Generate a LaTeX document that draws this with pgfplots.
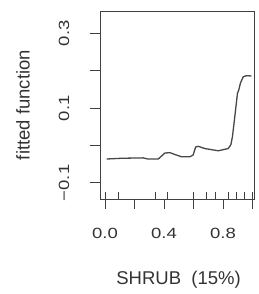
\documentclass[border=0pt]{standalone}
\usepackage{fontspec}
\setmainfont{Liberation Sans}
\usepackage{pgfplots}
\pgfplotsset{compat=1.18}
\definecolor{ln}{gray}{0.25}
\definecolor{cv}{gray}{0.28}
\definecolor{tx}{gray}{0.2}
\begin{document}
\begin{tikzpicture}
\begin{axis}[
  scale only axis,
  width=154pt, height=188pt,
  xmin=-0.034, xmax=1.01,
  ymin=-0.143, ymax=0.36,
  axis line style={draw=ln, line width=0.9pt},
  tick style={draw=ln, line width=0.9pt},
  tick align=outside,
  major tick length=10pt,
  xtick pos=bottom, ytick pos=left,
  xtick={0,0.2,0.4,0.6,0.8,1.0},
  xticklabels={0.0,,0.4,,0.8,},
  ytick={-0.1,0,0.1,0.2,0.3},
  yticklabels={−0.1,,0.1,,0.3},
  /pgf/number format/assume math mode=true,
  tick label style={font=\fontsize{18.5}{20}\selectfont, text=tx},
  xticklabel style={anchor=center, inner sep=0pt, yshift=-24.5pt, yscale=0.8},
  yticklabel style={anchor=center, inner sep=0pt, xshift=-26pt, rotate=90, yscale=0.8},
  xlabel={SHRUB\ \ (15\%)},
  ylabel={fitted function},
  label style={font=\fontsize{18.5}{20}\selectfont, text=tx},
  xlabel style={at={(axis description cs:0.51,0)}, anchor=center, yshift=-81pt},
  ylabel style={at={(axis description cs:0,0.5)}, anchor=center, yshift=77pt},
  clip=false,
]
% rug (deciles)
\addplot[only marks, mark=|, mark size=3.6pt, mark options={draw=ln, line width=0.9pt}]
  coordinates {(0,-0.1335) (0.09,-0.1335) (0.345,-0.1335) (0.425,-0.1335) (0.598,-0.1335)
  (0.689,-0.1335) (0.750,-0.1335) (0.835,-0.1335) (0.892,-0.1335) (0.943,-0.1335) (1.0,-0.1335)};
% fitted function
\addplot[draw=cv, line width=1.3pt, mark=none] coordinates {
(0.011,-0.036) (0.113,-0.034) (0.26,-0.033) (0.29,-0.036) (0.361,-0.036)
(0.406,-0.020) (0.44,-0.019) (0.474,-0.024) (0.519,-0.030) (0.576,-0.030)
(0.598,-0.025) (0.614,-0.004) (0.632,-0.002) (0.677,-0.008) (0.722,-0.011)
(0.767,-0.014) (0.801,-0.011) (0.835,-0.008) (0.853,0.002) (0.864,0.024)
(0.88,0.078) (0.898,0.140) (0.907,0.149) (0.918,0.167) (0.937,0.184)
(0.959,0.187) (0.993,0.186)};
\end{axis}
\pgfresetboundingbox
\path[use as bounding box] ([xshift=-100pt,yshift=-95pt]current axis.south west) rectangle ([xshift=5pt,yshift=11pt]current axis.north east);
\end{tikzpicture}
\end{document}
